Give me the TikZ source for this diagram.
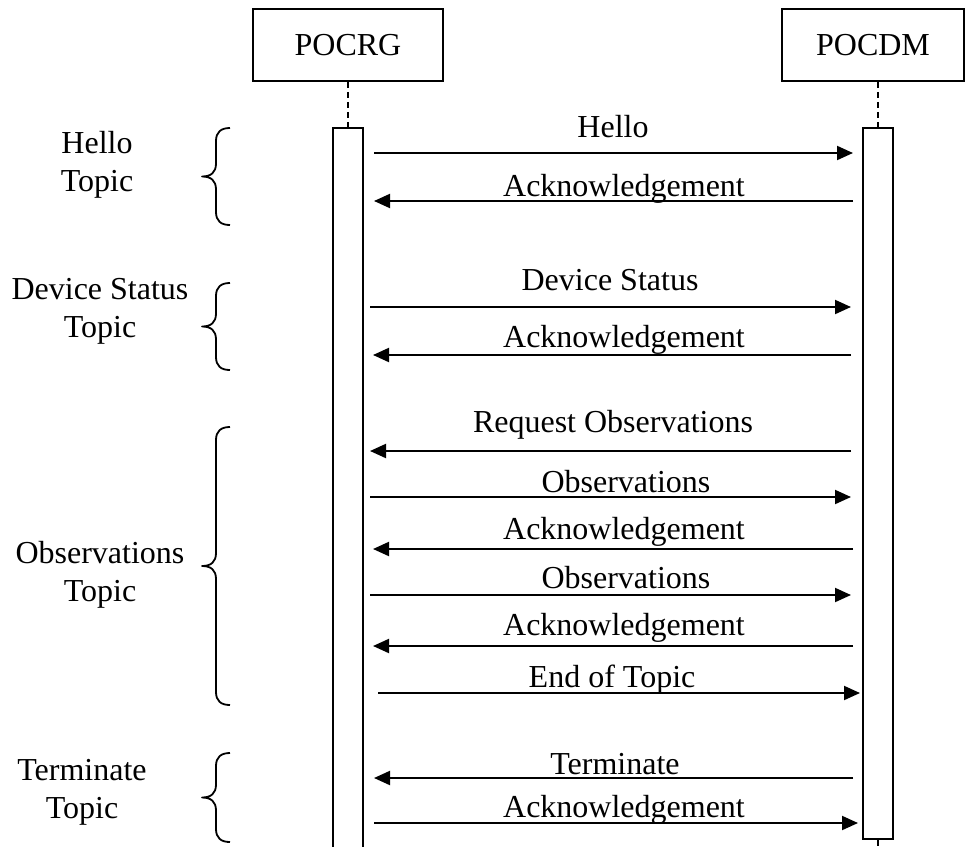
\documentclass[tikz,border=0pt]{standalone}
\usepackage{fontspec}
\setmainfont{Liberation Serif}
\usetikzlibrary{arrows.meta}
\begin{document}
\begin{tikzpicture}[x=1pt,y=-1pt,
  every node/.style={font=\fontsize{32}{38}\selectfont},
  actor/.style={draw,line width=1.8pt,minimum height=72pt,inner sep=0pt},
  bar/.style={draw,line width=1.7pt,minimum width=30pt,inner sep=0pt,anchor=north},
  life/.style={line width=1.6pt,dash pattern=on 6pt off 4pt},
  msg/.style={line width=2pt,-{Triangle[length=16pt,width=14pt]}},
  lbl/.style={anchor=base,inner sep=0pt},
  topicbrace/.style={line width=1.8pt,line join=round},
  topic/.style={align=center,inner sep=0pt}]
\useasboundingbox (0,0) rectangle (966,846);
\clip (0,0) rectangle (966,846);

% actors
\node[actor,minimum width=190pt] (rg) at (348,45) {POCRG};
\node[actor,minimum width=182pt] (dm) at (873,45) {POCDM};

% activation bars
\node[bar,minimum height=720pt] (rgbar) at (348,127) {};
\node[bar,minimum height=711pt] (dmbar) at (878,127) {};

% lifelines
\draw[life] (rgbar.north |- rg.south) -- (rgbar.north);
\draw[life] (dmbar.north |- dm.south) -- (dmbar.north);
\coordinate (dmend) at (878,846);
\draw[line width=1.7pt] (dmbar.south) -- (dmend);

% messages
\foreach \i/\y/\b/\d/\xl/\xr/\xc/\t in {
  1/153/137/R/374/853/613/Hello,
  2/201/196/L/374/853/624/Acknowledgement,
  3/307/290/R/370/851/610/Device Status,
  4/355/347/L/373/851/624/Acknowledgement,
  5/451/432/L/370/851/613/Request Observations,
  6/497/492/R/370/851/626/Observations,
  7/549/539/L/373/853/624/Acknowledgement,
  8/595/588/R/370/851/626/Observations,
  9/646/635/L/373/853/624/Acknowledgement,
  10/693/687/R/378/860/612/End of Topic,
  11/778/774/L/374/853/615/Terminate,
  12/823/817/R/374/858/624/Acknowledgement}{
  \coordinate (l\i) at (\xl,\y);
  \coordinate (r\i) at (\xr,\y);
  \node[lbl] (m\i) at (\xc,\b) {\t};
  \if\d R
    \draw[msg] (l\i) -- (r\i);
  \else
    \draw[msg] (r\i) -- (l\i);
  \fi
}

% braces (end x = 230, spine x = 216, tip x = 202)
\foreach \yt/\yb in {128/225, 283/370, 427/705, 753/842}{
  \pgfmathsetmacro{\ym}{(\yt+\yb)/2}
  \draw[topicbrace]
    (230,\yt) .. controls (221,\yt) and (216,\yt+4) .. (216,\yt+13)
    -- (216,\ym-13) .. controls (216,\ym-4) and (211,\ym) .. (202,\ym)
    .. controls (211,\ym) and (216,\ym+4) .. (216,\ym+13)
    -- (216,\yb-13) .. controls (216,\yb-4) and (221,\yb) .. (230,\yb);
}

% topic labels
\node[topic] (h) at (97,165) {Hello\\Topic};
\node[topic] (ds) at (100,311) {Device Status\\Topic};
\node[topic] (ob) at (100,575) {Observations\\Topic};
\node[topic] (te) at (82,792) {Terminate\\Topic};
\end{tikzpicture}
\end{document}
